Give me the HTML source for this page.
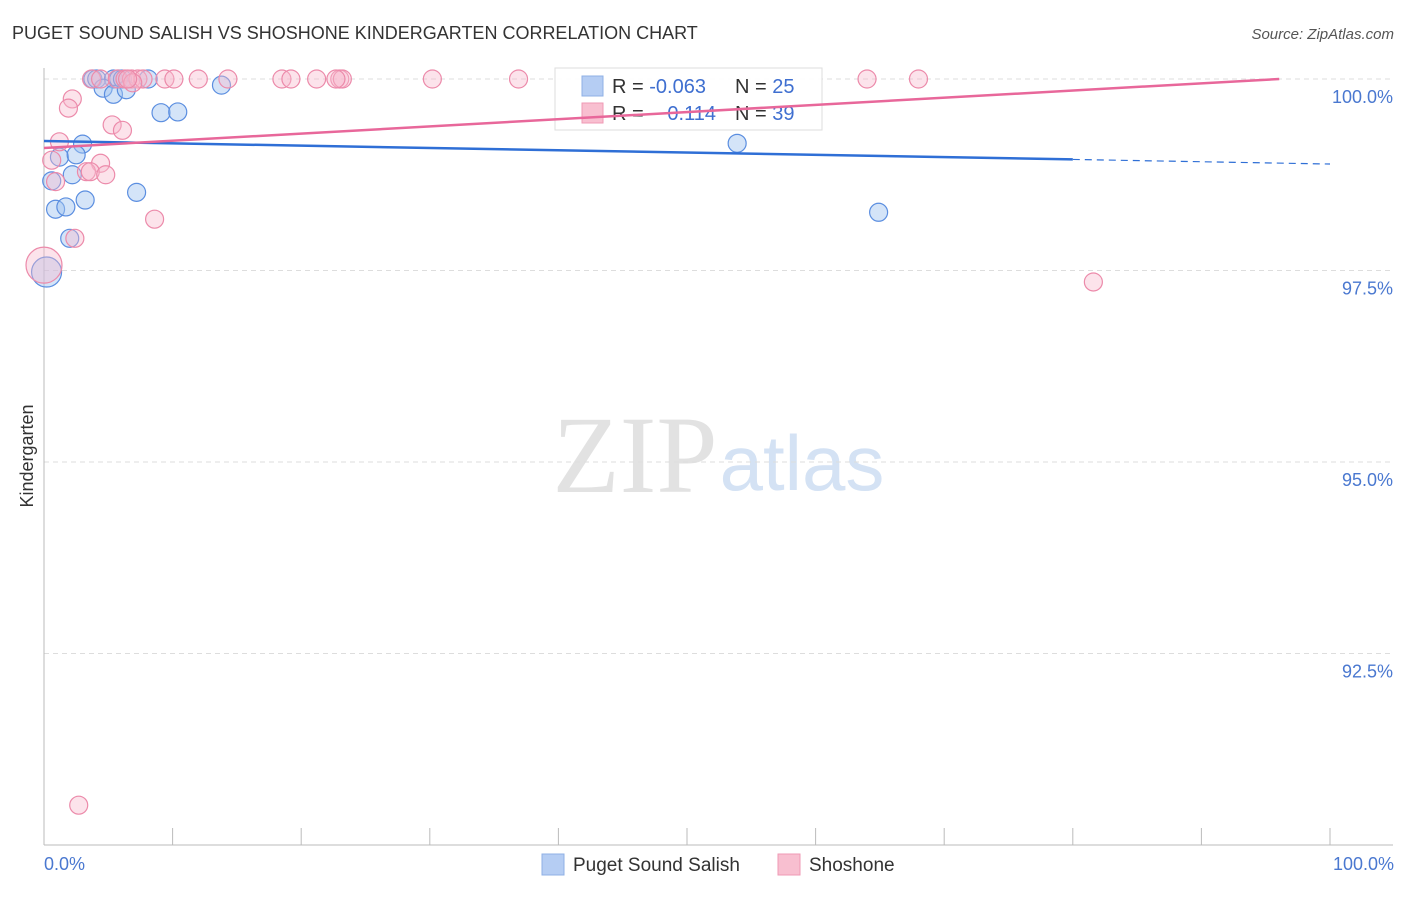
<!DOCTYPE html>
<html><head><meta charset="utf-8"><style>
body{margin:0;background:#fff;font-family:"Liberation Sans",sans-serif;}
</style></head><body>
<svg width="1406" height="892" xmlns="http://www.w3.org/2000/svg" style="font-family:'Liberation Sans',sans-serif">
<text x="12" y="39" font-size="18" fill="#333">PUGET SOUND SALISH VS SHOSHONE KINDERGARTEN CORRELATION CHART</text>
<text x="1394" y="39" font-size="15" fill="#555" font-style="italic" text-anchor="end">Source: ZipAtlas.com</text>
<text x="635" y="492" font-size="110" fill="#e2e2e2" font-family="Liberation Serif" text-anchor="middle">ZIP</text>
<text x="802" y="490" font-size="78" fill="#d4e2f4" text-anchor="middle">atlas</text>
<g id="grid"></g><g id="axes"></g><g id="pts"></g>
<g>
<rect x="555" y="68" width="267" height="62" fill="#fff" fill-opacity="0.9" stroke="#ddd"/>
<rect x="582" y="76" width="21" height="20" fill="#b5cdf3" stroke="#8fb0e6"/>
<rect x="582" y="103" width="21" height="20" fill="#f8bfd0" stroke="#ef9ab4"/>
<text x="612" y="93" font-size="20" fill="#333">R = <tspan fill="#3f6fd0">-0.063</tspan></text>
<text x="735" y="93" font-size="20" fill="#333">N = <tspan fill="#3f6fd0">25</tspan></text>
<text x="612" y="120" font-size="20" fill="#333">R = </text>
<text x="716" y="120" font-size="20" fill="#3f6fd0" text-anchor="end">0.114</text>
<text x="735" y="120" font-size="20" fill="#333">N = <tspan fill="#3f6fd0">39</tspan></text>
</g>
<g id="trend"></g>
<text transform="translate(33,456) rotate(-90)" font-size="18" fill="#333" text-anchor="middle">Kindergarten</text>
<text x="44" y="870" font-size="18" fill="#4a78d0">0.0%</text>
<text x="1394" y="870" font-size="18" fill="#4a78d0" text-anchor="end">100.0%</text>
<g>
<rect x="542" y="854" width="22" height="21" fill="#b5cdf3" stroke="#8fb0e6"/>
<text x="573" y="871" font-size="19" fill="#333">Puget Sound Salish</text>
<rect x="778" y="854" width="22" height="21" fill="#f8bfd0" stroke="#ef9ab4"/>
<text x="809" y="871" font-size="19" fill="#333">Shoshone</text>
</g>
</svg>
<script>
const blueX=[3.8,4.1,5.4,5.8,6.1,8.1,4.6,5.4,6.4,13.8,9.1,10.4,3.0,1.2,2.5,2.2,0.6,7.2,3.2,0.9,1.7,2.0,0.2,53.9,64.9];
const blueY=[100,100,100,100,100,100,99.88,99.80,99.86,99.92,99.56,99.57,99.15,98.98,99.01,98.75,98.67,98.52,98.42,98.30,98.33,97.92,97.48,99.16,98.26];
const blueR=[9,9,9,9,9,9,9,9,9,9,9,9,9,9,9,9,9,9,9,9,9,9,15,9,9];
const pinkX=[3.7,4.4,5.7,6.3,6.8,7.3,7.7,9.4,10.1,12.0,14.3,18.5,19.2,21.2,23.0,23.2,30.2,36.9,64.0,68.0,6.9,2.2,1.9,5.3,6.1,1.2,0.6,4.4,3.3,3.6,4.8,0.9,8.6,2.4,0.0,81.6,2.7,6.5,22.7];
const pinkY=[100,100,100,100,100,100,100,100,100,100,100,100,100,100,100,100,100,100,100,100,99.95,99.74,99.62,99.40,99.33,99.18,98.94,98.90,98.79,98.79,98.75,98.66,98.17,97.92,97.57,97.35,90.52,100,100];
const pinkR=[9,9,9,9,9,9,9,9,9,9,9,9,9,9,9,9,9,9,9,9,9,9,9,9,9,9,9,9,9,9,9,9,9,9,18,9,9,9,9];
const blueTrend=[99.19,98.89];
const pinkTrend=[99.10,100.037];
const yTicks=[100,97.5,95,92.5];
const yTickLabels=["100.0%","97.5%","95.0%","92.5%"];
const NS="http://www.w3.org/2000/svg";
const X=v=>44+v*12.86, Y=v=>79+(100-v)*76.6;
function mk(p,t,a){const e=document.createElementNS(NS,t);for(const k in a)e.setAttribute(k,a[k]);document.getElementById(p).appendChild(e);return e;}
yTicks.forEach((t,i)=>{
 const l=mk('grid','line',{x1:44,x2:1393,y1:Y(t),y2:Y(t),stroke:'#ddd','stroke-dasharray':'5,4'});
 
 
 const tx=mk('grid','text',{x:1393,y:Y(t)+24,'font-size':18,fill:'#4a78d0','text-anchor':'end'});
 tx.textContent=yTickLabels[i];
 
 
});
let a=mk('axes','line',{x1:44,x2:44,y1:68,y2:845,stroke:'#bbb'});


a=mk('axes','line',{x1:44,x2:1393,y1:845,y2:845,stroke:'#bbb'});


for(let k=0;k<=10;k++){const t=mk('axes','line',{x1:X(k*10),x2:X(k*10),y1:828,y2:845,stroke:'#bbb'});
 
 }
blueX.forEach((v,i)=>{const c=mk('pts','circle',{cx:X(v),cy:Y(blueY[i]),r:blueR[i],fill:'rgba(160,195,240,0.45)',stroke:'#5b8ee0','stroke-width':1.2});
 
 });
pinkX.forEach((v,i)=>{const c=mk('pts','circle',{cx:X(v),cy:Y(pinkY[i]),r:pinkR[i],fill:'rgba(248,185,205,0.4)',stroke:'#ec8aaa','stroke-width':1.2});
 
 });
const bAt=x=>blueTrend[0]+(blueTrend[1]-blueTrend[0])*x/100;
let t=mk('trend','line',{x1:X(0),y1:Y(bAt(0)),x2:X(80),y2:Y(bAt(80)),stroke:'#2f6fd6','stroke-width':2.5});


t=mk('trend','line',{x1:X(80),y1:Y(bAt(80)),x2:X(100),y2:Y(bAt(100)),stroke:'#2f6fd6','stroke-width':1.2,'stroke-dasharray':'7,5'});


const pSlope=(pinkTrend[1]-pinkTrend[0])/100;
const pEnd=Math.min(100,(100-pinkTrend[0])/pSlope);
t=mk('trend','line',{x1:X(0),y1:Y(pinkTrend[0]),x2:X(pEnd),y2:Y(pinkTrend[0]+pSlope*pEnd),stroke:'#e8679a','stroke-width':2.5});


</script>
</body></html>
